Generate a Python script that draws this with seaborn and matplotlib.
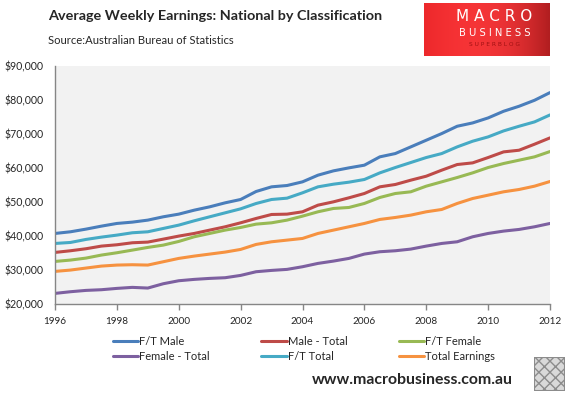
import numpy as np
import pandas as pd
import matplotlib
matplotlib.use("Agg")
import matplotlib.pyplot as plt
import seaborn as sns
from matplotlib.lines import Line2D
from matplotlib.ticker import FuncFormatter
from matplotlib.patches import Rectangle

# --- DATA (half-yearly readings, AUD per year) ---
periods = [1996.0, 1996.5, 1997.0, 1997.5, 1998.0, 1998.5, 1999.0, 1999.5,
           2000.0, 2000.5, 2001.0, 2001.5, 2002.0, 2002.5, 2003.0, 2003.5,
           2004.0, 2004.5, 2005.0, 2005.5, 2006.0, 2006.5, 2007.0, 2007.5,
           2008.0, 2008.5, 2009.0, 2009.5, 2010.0, 2010.5, 2011.0, 2011.5,
           2012.0]

ft_male = [40750, 41240, 42020, 42900, 43690, 44080, 44670, 45650,
           46430, 47600, 48580, 49760, 50740, 53090, 54460, 54850,
           55930, 57890, 59160, 60040, 60830, 63280, 64250, 66210,
           68170, 70130, 72280, 73260, 74730, 76690, 78160, 79920,
           82180]
male_total = [35170, 35660, 36250, 37030, 37420, 38010, 38210, 39080,
              39970, 40750, 41730, 42710, 43880, 45160, 46330, 46430,
              47120, 49070, 50050, 51230, 52500, 54460, 55150, 56420,
              57590, 59360, 61020, 61510, 63080, 64740, 65230, 67000,
              68860]
ft_female = [32520, 32920, 33500, 34390, 35070, 35850, 36640, 37320,
             38400, 39770, 40750, 41730, 42510, 43490, 43880, 44670,
             45840, 47120, 48100, 48390, 49570, 51330, 52500, 53000,
             54660, 55930, 57200, 58570, 60140, 61320, 62300, 63280,
             64840]
female_total = [23120, 23610, 24000, 24200, 24590, 24890, 24690, 25960,
                26840, 27240, 27530, 27730, 28410, 29490, 29880, 30180,
                30960, 31940, 32620, 33410, 34680, 35370, 35660, 36150,
                37030, 37810, 38300, 39770, 40750, 41440, 41930, 42710,
                43690]
ft_total = [37810, 38100, 38990, 39670, 40260, 40950, 41240, 42220,
            43200, 44470, 45650, 46820, 47990, 49560, 50740, 51130,
            52700, 54460, 55240, 55830, 56620, 58570, 60140, 61610,
            63080, 64250, 66210, 67880, 69150, 70910, 72280, 73560,
            75610]
total_earnings = [29590, 29980, 30570, 31150, 31450, 31550, 31450, 32430,
                  33410, 34090, 34680, 35270, 36050, 37520, 38300, 38790,
                  39280, 40750, 41730, 42710, 43690, 44870, 45450, 46140,
                  47120, 47800, 49570, 51030, 52010, 53000, 53680, 54660,
                  56030]

series_names = ["F/T Male", "Male - Total", "F/T Female",
                "Female - Total", "F/T Total", "Total Earnings"]
series_colors = ["#4A7EBB", "#BE4B48", "#98B954", "#7D60A0", "#46AAC5", "#F69240"]
x_ticks = [1996, 1998, 2000, 2002, 2004, 2006, 2008, 2010, 2012]
y_ticks = [20000, 30000, 40000, 50000, 60000, 70000, 80000, 90000]

W, H = 571, 398


def fx(px):
    return px / W


def fy(py):
    return 1 - py / H


sns.set_theme(style="white")
plt.rcParams['font.family'] = ['Lato', 'DejaVu Sans']

df = pd.DataFrame({
    "period": periods * 6,
    "value": ft_male + male_total + ft_female + female_total + ft_total + total_earnings,
    "series": sum([[n] * len(periods) for n in series_names], []),
})

fig = plt.figure(figsize=(W / 100, H / 100), dpi=100)
fig.patch.set_facecolor("white")
ax = fig.add_axes([fx(55), fy(304), fx(550 - 55), (304 - 66) / H])
ax.set_facecolor("#F2F2F2")

sns.lineplot(data=df, x="period", y="value", hue="series", hue_order=series_names,
             palette=series_colors, linewidth=2.2, ax=ax, legend=False)

ax.set_xlim(1996, 2012)
ax.set_ylim(20000, 90000)
ax.set_xticks(x_ticks)
ax.set_yticks(y_ticks)
ax.yaxis.set_major_formatter(FuncFormatter(lambda v, p: f"${v:,.0f}"))
ax.set_xlabel("")
ax.set_ylabel("")
for s in ["top", "right"]:
    ax.spines[s].set_visible(False)
for s in ["left", "bottom"]:
    ax.spines[s].set_color("#868686")
    ax.spines[s].set_linewidth(1.0)
ax.tick_params(axis="x", direction="out", length=4, width=1, color="#868686",
               labelsize=7.2, pad=5, bottom=True)
ax.tick_params(axis="y", length=0, labelsize=7.6, pad=8.5)

# title + source
fig.text(fx(48), fy(16), "Average Weekly Earnings: National by Classification",
         fontsize=10.4, fontweight="bold", va="center", ha="left")
fig.text(fx(48), fy(40), "Source:Australian Bureau of Statistics",
         fontsize=8.1, va="center", ha="left")

# legend (3 columns, filled column-wise)
order = [0, 3, 1, 4, 2, 5]
handles = [Line2D([0], [0], color=series_colors[i], lw=2.2) for i in order]
labels = [series_names[i] for i in order]
fig.legend(handles, labels, ncol=3, loc="center", bbox_to_anchor=(fx(304), fy(349)),
           frameon=False, fontsize=8, handlelength=2.3, handletextpad=0.1,
           columnspacing=4.6, labelspacing=0.3)

# MacroBusiness logo box
lax = fig.add_axes([fx(424), fy(56), fx(550 - 424), (56 - 3) / H])
grad = np.linspace(0, 1, 64)
red = np.array([[0.93, 0.16, 0.17]]) * (1 - 0.25 * grad[:, None] ** 3) + \
    np.array([[0.05, 0.05, 0.05]]) * np.sin(grad[:, None] * np.pi)
lax.imshow(red[None, :, :].clip(0, 1), aspect="auto", extent=[0, 1, 0, 1])
lax.set_xlim(0, 1)
lax.set_ylim(0, 1)
lax.axis("off")
lax.text(0.56, 0.74, "M A C R O", color="white", fontsize=11, ha="center", va="center",
         family=["DejaVu Sans"])
lax.text(0.56, 0.43, "B U S I N E S S", color="white", fontsize=7.2, ha="center", va="center",
         family=["DejaVu Sans"])
lax.text(0.56, 0.22, "S U P E R B L O G", color="#A01012", fontsize=4.2, ha="center",
         va="center", family=["DejaVu Sans"])

# footer
fig.text(fx(412), fy(380), "www.macrobusiness.com.au", fontsize=11.4, fontweight="bold",
         ha="center", va="center")
wax = fig.add_axes([fx(534), fy(391), fx(31), 34 / H])
wax.set_xlim(0, 1)
wax.set_ylim(0, 1)
wax.add_patch(Rectangle((0, 0), 1, 1, facecolor="#D9D9D9", edgecolor="#8C8C8C",
                        hatch="xxx", linewidth=1.5))
wax.axis("off")

fig.savefig("out.png", dpi=100, facecolor="white")
